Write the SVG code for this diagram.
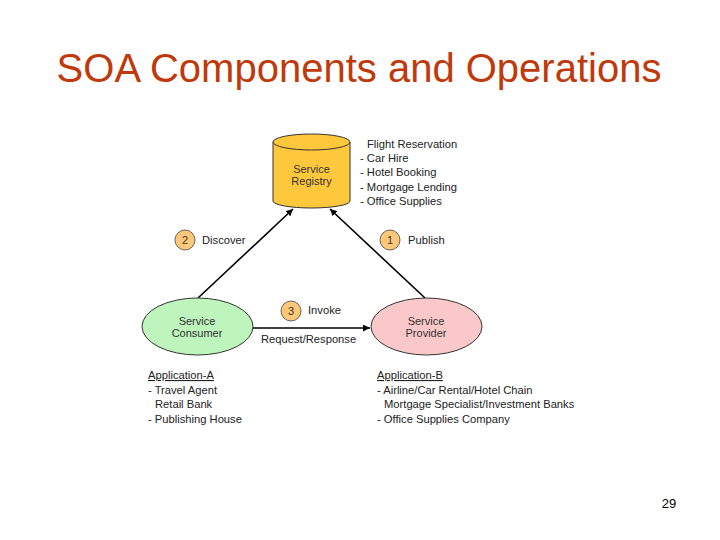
<svg xmlns="http://www.w3.org/2000/svg" width="720" height="540" viewBox="0 0 720 540">
<defs>
<marker id="ah" viewBox="0 0 10 10" refX="10" refY="5" markerWidth="7" markerHeight="7" markerUnits="userSpaceOnUse" orient="auto"><path d="M0,0 L10,5 L0,10 z" fill="#000"/></marker>
<style>
.t{font-family:"Liberation Sans",Arial,sans-serif;font-size:11.2px;fill:#222}
.n{font-family:"Liberation Sans",Arial,sans-serif;font-size:11px;fill:#333;text-anchor:middle}
.b{fill:#FFC878;stroke:#444;stroke-width:0.8}
.c{stroke:#000;stroke-width:1.6;fill:none}
</style>
</defs>
<rect width="720" height="540" fill="#fff"/>
<text x="359" y="82" font-family="'Liberation Sans',Arial,sans-serif" font-size="40" fill="#C0390B" text-anchor="middle">SOA Components and Operations</text>
<g id="connectors">
<line class="c" x1="198" y1="298" x2="293" y2="209" marker-end="url(#ah)"/>
<line class="c" x1="425" y1="298" x2="330" y2="209" marker-end="url(#ah)"/>
<line class="c" x1="253" y1="328" x2="370" y2="328" marker-end="url(#ah)"/>
</g>
<g id="registry">
<path d="M273,142 L273,201 A38.5,7 0 0 0 350,201 L350,142" fill="#FFC83C" stroke="#333" stroke-width="1"/>
<ellipse cx="311.5" cy="142" rx="38.5" ry="8" fill="#FFC83C" stroke="#333" stroke-width="1"/>
<text class="n" x="311.5" y="173">Service</text>
<text class="n" x="311.5" y="185">Registry</text>
</g>
<g id="consumer">
<ellipse cx="197.5" cy="326.5" rx="55.5" ry="28.5" fill="#BDF5BD" stroke="#333" stroke-width="1"/>
<text class="n" x="197" y="325">Service</text>
<text class="n" x="197" y="337">Consumer</text>
</g>
<g id="provider">
<ellipse cx="426.5" cy="326.5" rx="55.5" ry="28.5" fill="#FAC8C8" stroke="#333" stroke-width="1"/>
<text class="n" x="426" y="325">Service</text>
<text class="n" x="426" y="337">Provider</text>
</g>
<g id="discover">
<circle class="b" cx="185" cy="240" r="10"/>
<text class="n" x="185" y="244">2</text>
<text class="t" x="202" y="244">Discover</text>
</g>
<g id="publish">
<circle class="b" cx="390" cy="240" r="10"/>
<text class="n" x="390" y="244">1</text>
<text class="t" x="408" y="244">Publish</text>
</g>
<g id="invoke">
<circle class="b" cx="291" cy="311" r="10"/>
<text class="n" x="291" y="315">3</text>
<text class="t" x="308" y="314">Invoke</text>
<text class="t" x="261" y="343">Request/Response</text>
</g>
<g id="registry-list">
<text class="t" x="367" y="148">Flight Reservation</text>
<text class="t" x="360" y="162">- Car Hire</text>
<text class="t" x="360" y="176">- Hotel Booking</text>
<text class="t" x="360" y="191">- Mortgage Lending</text>
<text class="t" x="360" y="205">- Office Supplies</text>
</g>
<g id="app-a">
<text class="t" x="148" y="379" text-decoration="underline">Application-A</text>
<text class="t" x="148" y="394">- Travel Agent</text>
<text class="t" x="155" y="408">Retail Bank</text>
<text class="t" x="148" y="423">- Publishing House</text>
</g>
<g id="app-b">
<text class="t" x="377" y="379" text-decoration="underline">Application-B</text>
<text class="t" x="377" y="394">- Airline/Car Rental/Hotel Chain</text>
<text class="t" x="384" y="408">Mortgage Specialist/Investment Banks</text>
<text class="t" x="377" y="423">- Office Supplies Company</text>
</g>
<text x="669" y="508" font-family="'Liberation Sans',Arial,sans-serif" font-size="13" fill="#000" text-anchor="middle">29</text>
</svg>
